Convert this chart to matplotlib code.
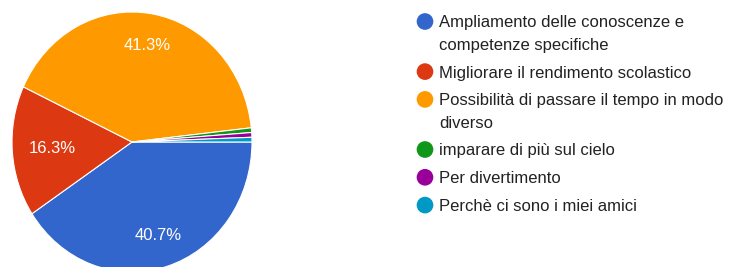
import numpy as np
import matplotlib.pyplot as plt

# responses per answer (172 total)
labels = [
    "Ampliamento delle conoscenze e\ncompetenze specifiche",
    "Migliorare il rendimento scolastico",
    "Possibilità di passare il tempo in modo\ndiverso",
    "imparare di più sul cielo",
    "Per divertimento",
    "Perchè ci sono i miei amici",
]
counts = [70, 28, 71, 1, 1, 1]
colors = ["#3366cc", "#dc3912", "#ff9900", "#109618", "#990099", "#0099c6"]

W, H = 730, 267
plt.rcParams["font.family"] = ["Liberation Sans", "DejaVu Sans"]

fig = plt.figure(figsize=(W / 100, H / 100), dpi=100)

# pie, slightly taller than wide like the reference
ax = fig.add_axes([12 / W, (H - 142 - 130) / H, 240 / W, 260 / H])
wedges, texts, autotexts = ax.pie(
    counts,
    colors=colors,
    startangle=0,
    counterclock=False,
    autopct=lambda p: f"{p:.1f}%" if p > 5 else "",
    pctdistance=0.75,
    wedgeprops=dict(edgecolor="white", linewidth=0.8),
    textprops=dict(color="white", fontsize=12),
)
# the narrow red slice has its label a bit closer to the centre
label_dist = [0.75, 0.67, 0.75, 0.75, 0.75, 0.75]
for w, t, d in zip(wedges, autotexts, label_dist):
    mid = np.deg2rad((w.theta1 + w.theta2) / 2)
    t.set_position((d * np.cos(mid), d * np.sin(mid)))
ax.set_aspect("auto")
ax.set_xlim(-1, 1)
ax.set_ylim(-1, 1)
ax.axis("off")

# legend drawn in pixel space
lg = fig.add_axes([0, 0, 1, 1])
lg.set_xlim(0, W)
lg.set_ylim(H, 0)
lg.axis("off")

y = 27.5
for lab, col in zip(labels, colors):
    lg.scatter([425], [y - 6], s=144, color=col, edgecolors="none")
    lines = lab.split("\n")
    for i, line in enumerate(lines):
        lg.text(439, y + i * 22.3, line, fontsize=12, color="#222222",
                va="baseline", ha="left")
    y += (len(lines) - 1) * 22.3 + 27.8

fig.savefig("out.png", dpi=100)
